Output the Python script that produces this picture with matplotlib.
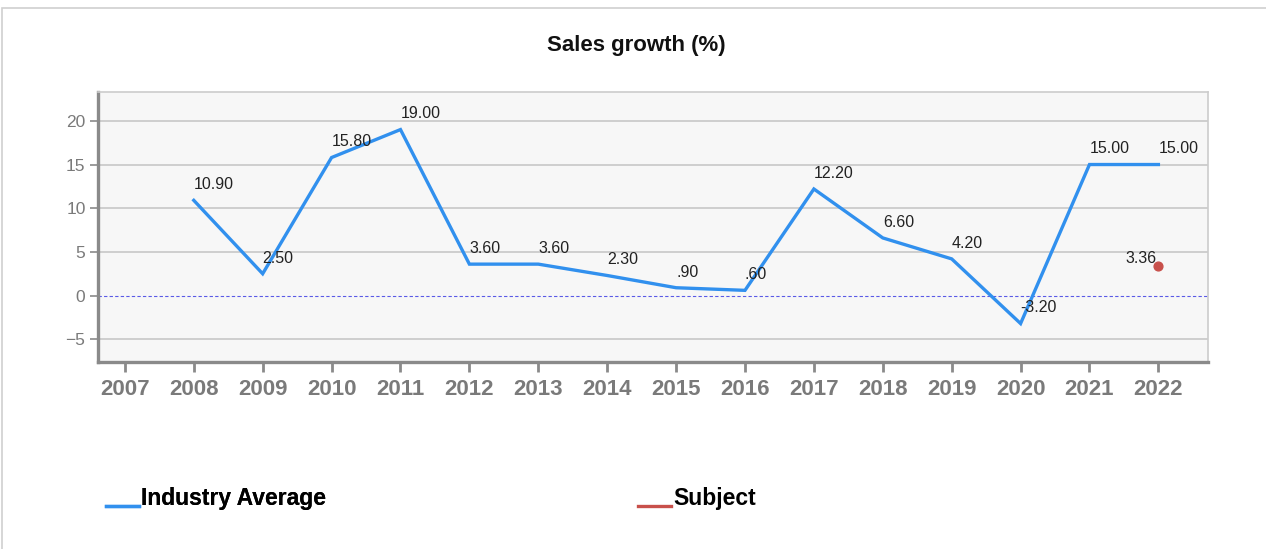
import matplotlib
matplotlib.use("Agg")
import numpy as np
import matplotlib.pyplot as plt
from matplotlib.patches import Rectangle
from matplotlib.lines import Line2D
from matplotlib.legend_handler import HandlerLine2D

years = [2007, 2008, 2009, 2010, 2011, 2012, 2013, 2014, 2015, 2016, 2017, 2018, 2019, 2020, 2021, 2022]
ind_years = [2008, 2009, 2010, 2011, 2012, 2013, 2014, 2015, 2016, 2017, 2018, 2019, 2020, 2021, 2022]
industry = [10.90, 2.50, 15.80, 19.00, 3.60, 3.60, 2.30, 0.90, 0.60, 12.20, 6.60, 4.20, -3.20, 15.00, 15.00]
industry_labels = ["10.90", "2.50", "15.80", "19.00", "3.60", "3.60", "2.30", ".90", ".60",
                   "12.20", "6.60", "4.20", "-3.20", "15.00", "15.00"]
subj_years = [2022]
subject = [3.36]
subject_labels = ["3.36"]
yticks = [-5, 0, 5, 10, 15, 20]

BLUE = "#3190ee"
RED = "#c8504b"
FONT = ["Liberation Sans", "DejaVu Sans"]
plt.rcParams['font.family'] = FONT


class LowLineHandler(HandlerLine2D):
    """Draw the legend line near the text baseline (like an underscore)."""
    def create_artists(self, legend, orig_handle, xdescent, ydescent, width, height,
                       fontsize, trans):
        artists = super().create_artists(legend, orig_handle, xdescent, ydescent,
                                         width, height, fontsize, trans)
        for a in artists:
            if isinstance(a, Line2D):
                y = np.asarray(a.get_ydata(), dtype=float)
                a.set_ydata(y - 0.42 * fontsize)
        return artists


W, H = 1266, 549
fig = plt.figure(figsize=(W / 100, H / 100), dpi=100)
fig.patch.set_facecolor("white")

# outer border
fig.add_artist(Rectangle((2 / W, -0.01), 1.02, 1 - 8 / H + 0.01, transform=fig.transFigure,
                         fill=False, edgecolor="#d0d0d0", linewidth=1.2))

ax = fig.add_axes([98 / W, 1 - 362 / H, (1208 - 98) / W, (362 - 92) / H])
ax.set_facecolor("#f7f7f7")
ax.set_xlim(2006.61, 2022.72)
ax.set_ylim(-7.6, 23.3)

for y in yticks:
    if y != 0:
        ax.axhline(y, color="#c4c4c4", linewidth=1.1, zorder=1)
ax.axhline(0, color="#5a5ae6", linewidth=0.8, linestyle=(0, (3, 2)), zorder=2)

ind_line, = ax.plot(ind_years, industry, color=BLUE, linewidth=2.4, zorder=3,
                    solid_joinstyle="miter", label="Industry Average")
ax.scatter(subj_years, subject, s=40, color=RED, zorder=4)

for x, v, t in zip(ind_years, industry, industry_labels):
    ax.annotate(t, (x, v), xytext=(0, 8), textcoords="offset points",
                ha="left", va="baseline", fontsize=11.5, color="#222222", zorder=5)
for x, v, t in zip(subj_years, subject, subject_labels):
    ax.annotate(t, (x, v), xytext=(-1, 2), textcoords="offset points",
                ha="right", va="baseline", fontsize=11.5, color="#222222", zorder=5)

ax.set_xticks(years)
ax.set_xticklabels([str(y) for y in years], fontsize=16, fontweight="bold", color="#7a7a7a")
ax.set_yticks(yticks)
ax.set_yticklabels([f"{y:g}".replace("-", "\u2212") for y in yticks], fontsize=12.5, color="#7a7a7a")
ax.tick_params(axis="x", length=7, width=2, color="#8a8a8a", pad=5)
ax.tick_params(axis="y", length=6, width=1.2, color="#8a8a8a", pad=3)

for s in ["left", "bottom"]:
    ax.spines[s].set_color("#8a8a8a")
    ax.spines[s].set_linewidth(2.4)
for s in ["top", "right"]:
    ax.spines[s].set_color("#cccccc")
    ax.spines[s].set_linewidth(1.2)

fig.text(636 / W, 1 - 45 / H, "Sales growth (%)", ha="center", va="center",
         fontsize=16, fontweight="bold", color="#111111")

subj_handle = Line2D([], [], color=RED, linewidth=2.4, label="Subject")
leg_kw = dict(frameon=False, handlelength=1.45, handletextpad=0.1, loc="center left",
              prop={"family": FONT, "weight": "bold", "size": 16.5},
              handler_map={Line2D: LowLineHandler()})
leg1 = fig.legend(handles=[ind_line], bbox_to_anchor=(85 / W, 1 - 498 / H), **leg_kw)
fig.add_artist(leg1)
fig.legend(handles=[subj_handle], bbox_to_anchor=(617 / W, 1 - 498 / H), **leg_kw)

fig.savefig("out.png", dpi=100)
